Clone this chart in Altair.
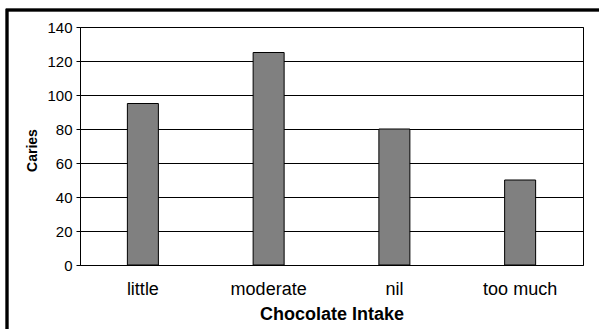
import altair as alt
import pandas as pd

categories = ["little", "moderate", "nil", "too much"]
caries = [95, 125, 80, 50]

df = pd.DataFrame({"Chocolate Intake": categories, "Caries": caries})

font = "Liberation Sans"

bars = alt.Chart(df).mark_bar(
    color="#808080", stroke="#000000", strokeWidth=1, size=31
).encode(
    x=alt.X("Chocolate Intake:N", sort=categories,
            scale=alt.Scale(paddingInner=0, paddingOuter=0),
            axis=alt.Axis(labelAngle=0, ticks=False, domain=False, grid=False,
                          labelPadding=15, labelFontSize=18, labelColor="#000",
                          title="Chocolate Intake", titleFontSize=18, titleFontWeight="bold",
                          titlePadding=7, titleColor="#000", labelFont=font, titleFont=font)),
    y=alt.Y("Caries:Q", scale=alt.Scale(domain=[0, 140], nice=False),
            axis=alt.Axis(values=list(range(0, 141, 20)), tickSize=4, tickColor="#000",
                          domainColor="#000", gridColor="#000", gridOpacity=1,
                          labelFontSize=15, labelColor="#000", labelPadding=4,
                          title="Caries", titleFontSize=14, titleFontWeight="bold",
                          titleColor="#000", titleX=-41, titleY=123, titleAngle=-90,
                          labelFont=font, titleFont=font))
)

frame = alt.Chart(df).mark_rect(
    filled=False, stroke="#000", strokeWidth=2.5, clip=False
).encode(
    x=alt.value(-73), x2=alt.value(620), y=alt.value(-17), y2=alt.value(400)
)

chart = alt.layer(frame, bars).properties(
    width=503, height=238,
    padding={"left": 80, "top": 27, "right": 16, "bottom": 64},
    autosize=alt.AutoSizeParams(type="none"),
    background="white"
).configure_view(stroke="#000", strokeWidth=1)

chart.save("out.html", embed_options={"renderer": "svg", "actions": False})
